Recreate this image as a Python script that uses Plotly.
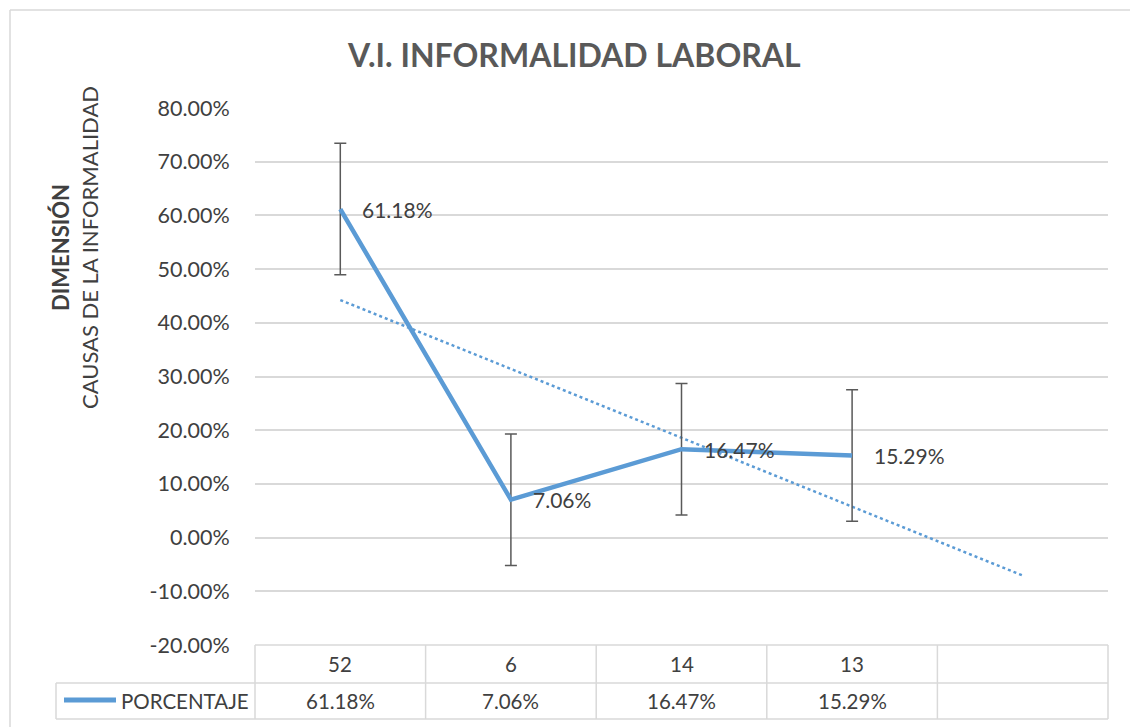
import numpy as np
import plotly.graph_objects as go

# ---- data ----
categories = ["52", "6", "14", "13", ""]
values = [61.18, 7.06, 16.47, 15.29]          # percent
series_name = "PORCENTAJE"
title_text = "V.I. INFORMALIDAD LABORAL"
ytitle_bold = "DIMENSIÓN"
ytitle_normal = "CAUSAS DE LA INFORMALIDAD"
y_ticks = [-20, -10, 0, 10, 20, 30, 40, 50, 60, 70, 80]

# ---- derived ----
n = len(values)
xs = np.arange(1, n + 1)
vals = np.array(values)
std_err = vals.std(ddof=1) / np.sqrt(n)
coef = np.polyfit(xs, vals, 1)
trend_x = np.array([1, n + 1])
trend_y = np.polyval(coef, trend_x)

OFF = 0  # page body margin removed by post_script
W, H = 1130, 727
L, R, T, B = 255, 1108, 108, 645
FONT = "Lato, Open Sans, sans-serif"
TXT = "#404040"
GRID = "#D9D9D9"
BLUE = "#5B9BD5"

def px(x):
    return (x - OFF - L) / (R - L)

def py(y):
    return (B - (y - OFF)) / (B - T)

fig = go.Figure()

fig.add_trace(go.Scatter(
    x=trend_x, y=trend_y, mode="lines",
    line=dict(color=BLUE, width=2.5, dash="dot"),
    hoverinfo="skip", showlegend=False))

fig.add_trace(go.Scatter(
    x=xs, y=vals, mode="lines", name=series_name,
    line=dict(color=BLUE, width=4.5),
    error_y=dict(type="constant", value=std_err, color="#595959",
                 thickness=1.5, width=6),
    showlegend=False))

shapes = []
line_style = dict(color=GRID, width=1.5)
TB = 719  # table bottom
shapes.append(dict(type="line", xref="paper", yref="paper",
                   x0=px(255), x1=px(1108), y0=py(645), y1=py(645), line=line_style))
for yy in (683, TB):
    shapes.append(dict(type="line", xref="paper", yref="paper",
                       x0=px(56), x1=px(1108), y0=py(yy), y1=py(yy), line=line_style))
cw = (R - L) / len(categories)
for i in range(len(categories) + 1):
    xx = L + OFF + i * cw
    shapes.append(dict(type="line", xref="paper", yref="paper",
                       x0=px(xx), x1=px(xx), y0=py(645), y1=py(TB), line=line_style))
shapes.append(dict(type="line", xref="paper", yref="paper",
                   x0=px(56), x1=px(56), y0=py(683), y1=py(TB), line=line_style))
# legend key
shapes.append(dict(type="line", xref="paper", yref="paper",
                   x0=px(64), x1=px(116), y0=py(700), y1=py(700),
                   line=dict(color=BLUE, width=5)))
# chart border (top and left visible)
shapes.append(dict(type="line", xref="paper", yref="paper",
                   x0=px(10), x1=px(1140), y0=py(10), y1=py(10),
                   line=dict(color=GRID, width=1.5)))
shapes.append(dict(type="line", xref="paper", yref="paper",
                   x0=px(10), x1=px(10), y0=py(10), y1=py(740),
                   line=dict(color=GRID, width=1.5)))

annotations = []
for xv, v in zip(xs, values):
    annotations.append(dict(xref="x", yref="y", x=xv, y=v, xanchor="left",
                            yanchor="middle", xshift=20, text=f"{v:.2f}%",
                            showarrow=False,
                            font=dict(family=FONT, size=21, color=TXT)))
for i, c in enumerate(categories):
    cx = L + OFF + (i + 0.5) * cw
    annotations.append(dict(xref="paper", yref="paper", x=px(cx), y=py(664),
                            xanchor="center", yanchor="middle",
                            text=c, showarrow=False,
                            font=dict(family=FONT, size=20.5, color=TXT)))
    if i < n:
        annotations.append(dict(xref="paper", yref="paper", x=px(cx), y=py(701),
                                xanchor="center", yanchor="middle",
                                text=f"{values[i]:.2f}%", showarrow=False,
                                font=dict(family=FONT, size=20.5, color=TXT)))
annotations.append(dict(xref="paper", yref="paper", x=px(119), y=py(701),
                        xanchor="left", yanchor="middle",
                        text=series_name, showarrow=False,
                        font=dict(family=FONT, size=20.5, color=TXT)))
annotations.append(dict(xref="paper", yref="paper", x=px(574), y=py(54),
                        xanchor="center", yanchor="middle",
                        text=f"<b>{title_text}</b>", showarrow=False,
                        font=dict(family=FONT, size=32, color="#595959")))
annotations.append(dict(xref="paper", yref="paper", x=px(75), y=py(248),
                        xanchor="center", yanchor="middle",
                        textangle=-90,
                        text=f"<b>{ytitle_bold}</b><br>{ytitle_normal}",
                        showarrow=False,
                        font=dict(family=FONT, size=22, color=TXT)))

fig.update_layout(
    width=W, height=H,
    margin=dict(l=L, r=W - R, t=T, b=H - B),
    paper_bgcolor="white", plot_bgcolor="white",
    shapes=shapes, annotations=annotations,
    xaxis=dict(range=[0.5, len(categories) + 0.5], showgrid=False, zeroline=False,
               showticklabels=False, showline=False, fixedrange=True),
    yaxis=dict(range=[-20, 80], tickvals=y_ticks,
               ticktext=[f"{v:.2f}%" for v in y_ticks],
               showgrid=True, gridcolor=GRID, gridwidth=1.5, zeroline=False,
               showline=False, ticks="outside", ticklen=20, tickcolor="rgba(0,0,0,0)",
               tickfont=dict(family=FONT, size=21.5, color=TXT), fixedrange=True),
    showlegend=False,
)

fig.write_html(
    "out.html",
    config={"displayModeBar": False},
    post_script="document.body.style.margin='0';document.body.style.overflow='hidden';",
)
